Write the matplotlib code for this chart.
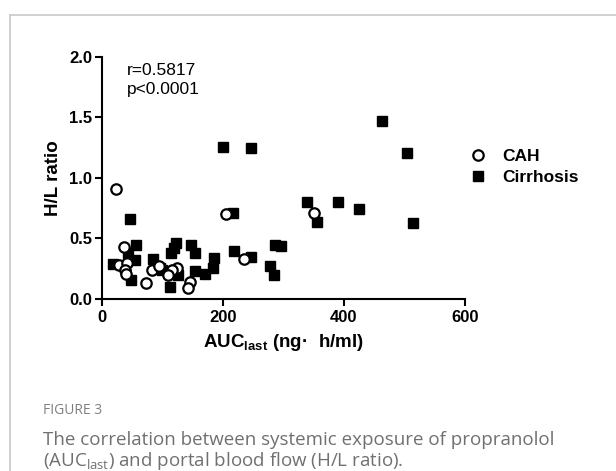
import matplotlib
matplotlib.use('Agg')
import matplotlib.pyplot as plt
from matplotlib.lines import Line2D

# CAH group (open circles)
cah_auc = [23, 37, 28, 42, 38, 40, 73, 83, 94, 113, 125, 116, 110, 146, 143, 206, 235, 351]
cah_hl = [0.91, 0.43, 0.28, 0.30, 0.24, 0.21, 0.13, 0.24, 0.27, 0.22, 0.26, 0.24, 0.20,
          0.14, 0.09, 0.70, 0.33, 0.71]

# Cirrhosis group (filled squares)
cir_auc = [18, 47, 57, 44, 55, 49, 85, 96, 99, 113, 115, 119, 123, 126, 147, 154, 154,
           171, 184, 186, 200, 246, 217, 218, 247, 278, 284, 286, 296, 339, 391, 425,
           355, 463, 505, 514]
cir_hl = [0.29, 0.66, 0.45, 0.38, 0.32, 0.16, 0.33, 0.26, 0.24, 0.10, 0.38, 0.42, 0.46,
          0.20, 0.45, 0.38, 0.23, 0.21, 0.26, 0.34, 1.26, 1.245, 0.71, 0.40, 0.35, 0.27,
          0.20, 0.45, 0.44, 0.80, 0.80, 0.74, 0.64, 1.47, 1.21, 0.63]

x_ticks = [0, 200, 400, 600]
y_ticks = [0.0, 0.5, 1.0, 1.5, 2.0]

plt.rcParams['font.family'] = 'Liberation Sans'
plt.rcParams['mathtext.fontset'] = 'custom'
plt.rcParams['mathtext.bf'] = 'Liberation Sans:bold'
plt.rcParams['mathtext.rm'] = 'Open Sans'

fig = plt.figure(figsize=(6.16, 4.71), dpi=100)
ax = fig.add_axes([0.1651, 0.3652, 0.5898, 0.5138])

ax.plot(cir_auc, cir_hl, linestyle='none', marker='s', markersize=6.8,
        color='black', label='Cirrhosis', zorder=3)
ax.plot(cah_auc, cah_hl, linestyle='none', marker='o', markersize=7.5,
        markerfacecolor='white', markeredgecolor='black', markeredgewidth=1.6,
        label='CAH', zorder=4)

ax.set_xlim(0, 600)
ax.set_ylim(0, 2.0)
ax.set_xticks(x_ticks)
ax.set_yticks(y_ticks)
ax.set_yticklabels([f'{v:.1f}' for v in y_ticks])

for side in ['top', 'right']:
    ax.spines[side].set_visible(False)
for side in ['left', 'bottom']:
    ax.spines[side].set_linewidth(1.5)
ax.tick_params(width=1.5, length=5, labelsize=12, pad=2)
ax.tick_params(axis='x', pad=3)
for lbl in ax.get_xticklabels() + ax.get_yticklabels():
    lbl.set_fontweight('bold')

ax.set_xlabel('AUC$_{\\mathbf{last}}$ (ng·  h/ml)', fontsize=13.5, fontweight='bold', labelpad=5)
ax.set_ylabel('H/L ratio', fontsize=13.5, fontweight='bold', labelpad=5)

ax.text(42, 1.95, 'r=0.5817\np<0.0001', fontsize=12.5, va='top', ha='left',
        linespacing=1.35)

handles, labels = ax.get_legend_handles_labels()
ax.legend(handles[::-1], labels[::-1], loc='upper left', bbox_to_anchor=(0.734, 0.718),
          bbox_transform=fig.transFigure, frameon=False, handletextpad=0.8,
          labelspacing=0.35, prop={'weight': 'bold', 'size': 12.5}, handlelength=1.2)

# card border (top and left)
fig.add_artist(Line2D([9.5 / 616, 9.5 / 616], [0, 1 - 14.5 / 471], color='#c8c8c8', lw=1.2))
fig.add_artist(Line2D([9.5 / 616, 1], [1 - 14.5 / 471, 1 - 14.5 / 471], color='#c8c8c8', lw=1.2))

# caption
fig.text(43 / 616, 1 - 414 / 471, 'FIGURE 3', fontsize=10, color='#808080',
         family='Open Sans', va='baseline', ha='left')
fig.text(43 / 616, 1 - 445 / 471, 'The correlation between systemic exposure of propranolol',
         fontsize=13.5, color='#707070', family='Open Sans', va='baseline', ha='left')
fig.text(43 / 616, 1 - 466 / 471, '(AUC$_{\\mathrm{last}}$) and portal blood flow (H/L ratio).',
         fontsize=13.5, color='#707070', family='Open Sans', va='baseline', ha='left')

fig.savefig('out.png', dpi=100)
